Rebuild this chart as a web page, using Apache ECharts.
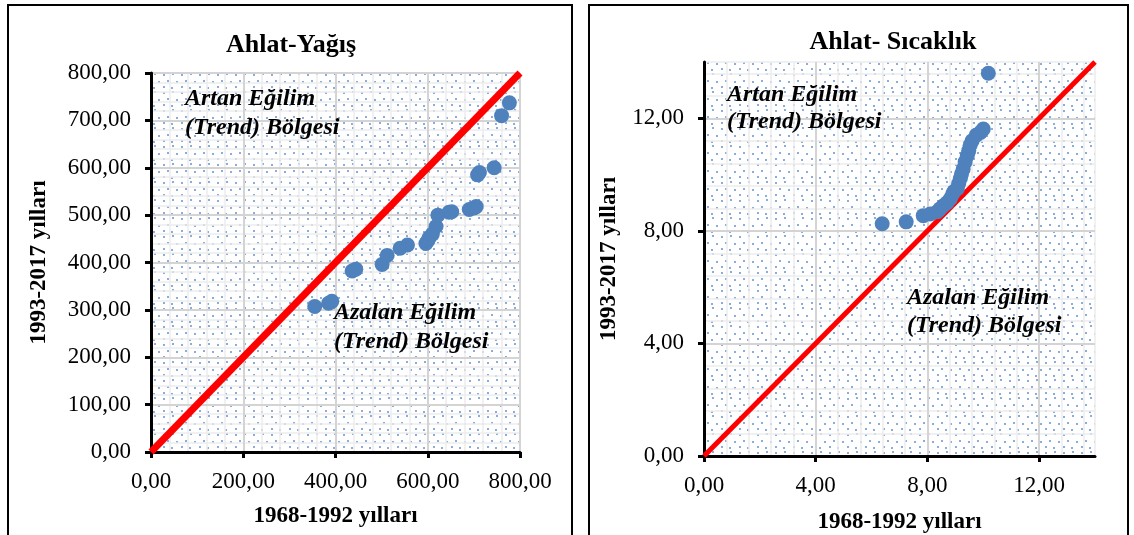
<!DOCTYPE html>
<html><head><meta charset="utf-8">
<script src="https://cdn.jsdelivr.net/npm/echarts@6/dist/echarts.min.js"></script>
<style>html,body{margin:0;padding:0;background:#fff}#c{width:1134px;height:535px}</style>
</head><body><div id="c"></div>
<script>
// ---- data ----
const rainTitle = 'Ahlat-Yağış';
const tempTitle = 'Ahlat- Sıcaklık';
const xName = '1968-1992 yılları';
const yName = '1993-2017 yılları';
const rainX = [355,385,392,436,444,501,512,540,556,596,600,603,610,618,622,646,652,690,700,705,708,712,744,760,777];
const rainY = [307,314,318,382,386,396,415,430,437,440,446,452,460,476,500,506,507,512,515,518,585,590,600,710,737];
const tempX = [6.38,7.24,7.85,8.10,8.35,8.45,8.57,8.70,8.82,8.90,8.95,9.07,9.12,9.18,9.22,9.28,9.35,9.43,9.48,9.53,9.60,9.75,9.90,10.00,10.18];
const tempY = [8.25,8.32,8.54,8.60,8.68,8.78,8.89,9.00,9.14,9.30,9.40,9.50,9.68,9.86,10.02,10.20,10.45,10.68,10.85,11.04,11.20,11.40,11.50,11.62,13.60];
const rainDiag = [[0,0],[800,800]];
const tempDiag = [[0,0],[14,14]];
const rainXTicks = [0,200,400,600,800];
const rainYTicks = [0,100,200,300,400,500,600,700,800];
const tempTicks = [0,4,8,12];
const upText = ['Artan Eğilim','(Trend) Bölgesi'];
const downText = ['Azalan Eğilim','(Trend) Bölgesi'];

// ---- pattern ----
const pc = document.createElement('canvas'); pc.width = 18; pc.height = 18;
const g = pc.getContext('2d');
g.fillStyle = '#ffffff'; g.fillRect(0,0,18,18);
g.fillStyle = '#8aaddb';
[[1,2],[10,1],[5,8],[14,9],[1,14],[9,15]].forEach(p => g.fillRect(p[0],p[1],2,2));
const pattern = {image: pc, repeat: 'repeat'};

const FONT = '"Liberation Serif","Times New Roman",serif';
const fmt = v => v.toFixed(2).replace('.', ',');
const labelStyle = {color:'#000', fontFamily: FONT, fontSize: 23, formatter: fmt};
const nameStyle = {color:'#000', fontFamily: FONT, fontSize: 23, fontWeight:'bold'};
const majorLine = {show:true, lineStyle:{color:'#d4d4d4', width:2}};
const minorLine = {show:true, lineStyle:{color:'#ededed', width:1.5}};
const axLine = {show:true, onZero:false, lineStyle:{color:'#000', width:3}};
const axTick = {show:true, inside:false, length:6, lineStyle:{color:'#000', width:3}};

function minorAxis(gi, max, interval, pos){
  return {type:'value', gridIndex:gi, position:pos, min:0, max:max, interval:interval, z:0,
    axisLine:{show:false}, axisTick:{show:false}, axisLabel:{show:false}, splitLine:minorLine};
}

const option = {
  animation:false,
  backgroundColor:'#fff',
  grid:[
    {left:151, right:1134-520, top:73, bottom:535-452, show:true, backgroundColor:pattern, borderWidth:0, outerBoundsMode:'none', containLabel:false},
    {left:704, right:1134-1095, top:62, bottom:535-456, show:true, backgroundColor:pattern, borderWidth:0, outerBoundsMode:'none', containLabel:false}
  ],
  xAxis:[
    minorAxis(0, 800, 40, 'top'),
    {type:'value', gridIndex:0, position:'bottom', min:0, max:800, interval:200, z:1,
      name:xName, nameLocation:'middle', nameGap:53, nameTextStyle:nameStyle,
      axisLine:axLine, axisTick:Object.assign({customValues:rainXTicks}, axTick),
      axisLabel:Object.assign({margin:18, customValues:rainXTicks}, labelStyle), splitLine:majorLine},
    minorAxis(1, 14, 0.8, 'top'),
    {type:'value', gridIndex:1, position:'bottom', min:0, max:14, interval:4, z:1,
      name:xName, nameLocation:'middle', nameGap:55, nameTextStyle:nameStyle,
      axisLine:axLine, axisTick:Object.assign({customValues:tempTicks}, axTick),
      axisLabel:Object.assign({margin:18, customValues:tempTicks}, labelStyle), splitLine:majorLine}
  ],
  yAxis:[
    minorAxis(0, 800, 20, 'right'),
    {type:'value', gridIndex:0, position:'left', min:0, max:800, interval:100, z:1,
      name:yName, nameLocation:'middle', nameGap:100, nameRotate:90, nameTextStyle:nameStyle,
      axisLine:axLine, axisTick:Object.assign({customValues:rainYTicks}, axTick),
      axisLabel:Object.assign({margin:20, customValues:rainYTicks}, labelStyle), splitLine:majorLine},
    minorAxis(1, 14, 0.8, 'right'),
    {type:'value', gridIndex:1, position:'left', min:0, max:14, interval:4, z:1,
      name:yName, nameLocation:'middle', nameGap:83, nameRotate:90, nameTextStyle:nameStyle,
      axisLine:axLine, axisTick:Object.assign({customValues:tempTicks}, axTick),
      axisLabel:Object.assign({margin:20, customValues:tempTicks}, labelStyle), splitLine:majorLine}
  ],
  series:[
    {type:'line', xAxisIndex:1, yAxisIndex:1, data:rainDiag, symbol:'none', lineStyle:{color:'#ff0000', width:7}, z:2},
    {type:'scatter', xAxisIndex:1, yAxisIndex:1, data:rainX.map((x,i)=>[x,rainY[i]]), symbolSize:15, itemStyle:{color:'#4f81bd', opacity:1}, z:3},
    {type:'line', xAxisIndex:3, yAxisIndex:3, data:tempDiag, symbol:'none', lineStyle:{color:'#ff0000', width:5}, z:2},
    {type:'scatter', xAxisIndex:3, yAxisIndex:3, data:tempX.map((x,i)=>[x,tempY[i]]), symbolSize:15, itemStyle:{color:'#4f81bd', opacity:1}, z:3}
  ],
  graphic:[
    {type:'rect', shape:{x:8, y:5, width:564, height:540}, style:{fill:'none', stroke:'#000', lineWidth:2}, z:-1},
    {type:'rect', shape:{x:589, y:5, width:539, height:540}, style:{fill:'none', stroke:'#000', lineWidth:2}, z:-1},
    {type:'text', x:291, y:45, style:{text:rainTitle, font:'bold 26px '+FONT, fill:'#000', textAlign:'center', textVerticalAlign:'middle'}},
    {type:'text', x:893, y:42, style:{text:tempTitle, font:'bold 26px '+FONT, fill:'#000', textAlign:'center', textVerticalAlign:'middle'}},
    {type:'text', x:185, y:99, style:{text:upText[0], font:'italic bold 24px '+FONT, fill:'#000', textVerticalAlign:'middle'}, z:10},
    {type:'text', x:185, y:128, style:{text:upText[1], font:'italic bold 24px '+FONT, fill:'#000', textVerticalAlign:'middle'}, z:10},
    {type:'text', x:334, y:313, style:{text:downText[0], font:'italic bold 24px '+FONT, fill:'#000', textVerticalAlign:'middle'}, z:10},
    {type:'text', x:334, y:342, style:{text:downText[1], font:'italic bold 24px '+FONT, fill:'#000', textVerticalAlign:'middle'}, z:10},
    {type:'text', x:727, y:95, style:{text:upText[0], font:'italic bold 24px '+FONT, fill:'#000', textVerticalAlign:'middle'}, z:10},
    {type:'text', x:727, y:122, style:{text:upText[1], font:'italic bold 24px '+FONT, fill:'#000', textVerticalAlign:'middle'}, z:10},
    {type:'text', x:907, y:298, style:{text:downText[0], font:'italic bold 24px '+FONT, fill:'#000', textVerticalAlign:'middle'}, z:10},
    {type:'text', x:907, y:326, style:{text:downText[1], font:'italic bold 24px '+FONT, fill:'#000', textVerticalAlign:'middle'}, z:10}
  ]
};
const chart = echarts.init(document.getElementById('c'), null, {renderer:'canvas'});
chart.setOption(option);
</script>
</body></html>
